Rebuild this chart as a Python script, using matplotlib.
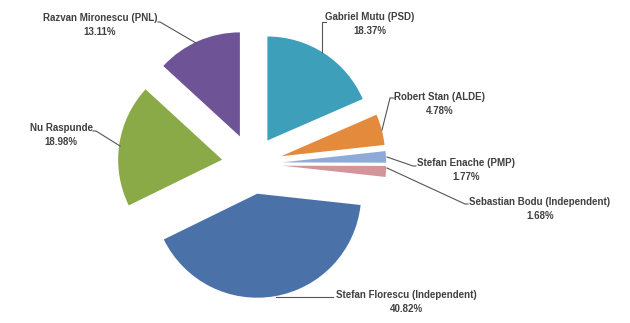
import matplotlib.pyplot as plt

names = ["Gabriel Mutu (PSD)", "Robert Stan (ALDE)", "Stefan Enache (PMP)",
         "Sebastian Bodu (Independent)", "Stefan Florescu (Independent)",
         "Nu Raspunde", "Razvan Mironescu (PNL)"]
shares = [18.37, 4.78, 1.77, 1.68, 40.82, 18.98, 13.11]
colors = ["#3d9fba", "#e48a3c", "#8fa9d8", "#d4959a", "#4a72a8", "#8aaa48", "#6e5496"]

# label placement in pixels (text centre x, name y) and leader line ends (px)
label_pos = [(370, 17), (440, 97), (466, 163), (540, 202), (406, 295), (61, 128), (100, 18)]
leaders = [[(322, 52), (322, 22), (326, 22)],
           [(382, 130), (390, 98), (394, 98)],
           [(387, 157), (413, 166), (416, 166)],
           [(387, 168), (465, 204), (468, 204)],
           [(276, 297), (333, 297)],
           [(120, 146), (96, 131), (93, 131)],
           [(196, 43), (160, 22), (158, 22)]]

W, H = 630, 323
R = 104.0          # pie radius in px
cx, cy = 252, 164  # pie centre in px

fig = plt.figure(figsize=(W / 100, H / 100), dpi=100)
ax = fig.add_axes([0, 0, 1, 1])
ax.pie(shares, colors=colors, startangle=90, counterclock=False,
       explode=[0.27, 0.29, 0.29, 0.29, 0.29, 0.29, 0.29], radius=1.0,
       wedgeprops=dict(linewidth=0))
ax.set_xlim(-cx / R, (W - cx) / R)
ax.set_ylim(-(H - cy) / R, cy / R)
ax.axis('off')


def to_data(px, py):
    return (px - cx) / R, (cy - py) / R


for name, val, (tx, ty), line in zip(names, shares, label_pos, leaders):
    pts = [to_data(*p) for p in line]
    ax.plot([p[0] for p in pts], [p[1] for p in pts], color="#555555", lw=0.8)
    x, y = to_data(tx, ty)
    ax.text(x, y, name, ha='center', va='center', fontsize=7, fontweight='bold',
            color="#404040", family='Liberation Sans')
    x2, y2 = to_data(tx, ty + 14)
    ax.text(x2, y2, f"{val:.2f}%", ha='center', va='center', fontsize=7,
            fontweight='bold', color="#404040", family='Liberation Sans')

fig.savefig("out.png", dpi=100)
